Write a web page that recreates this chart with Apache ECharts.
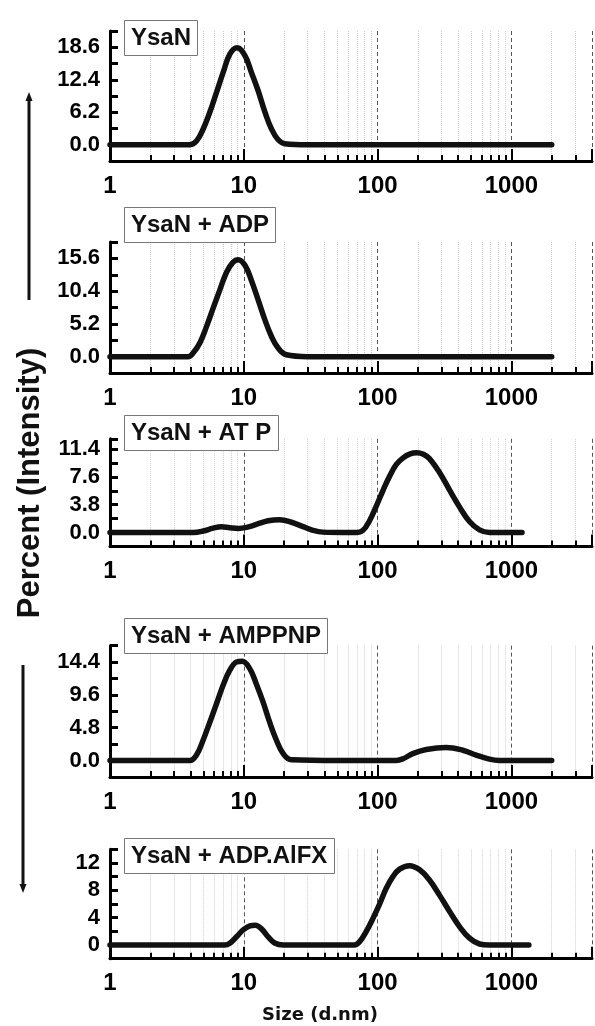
<!DOCTYPE html>
<html>
<head>
<meta charset="utf-8">
<script src="https://cdn.jsdelivr.net/npm/echarts@6/dist/echarts.min.js"></script>
<style>
  html, body { margin: 0; padding: 0; background: #fff; }
  #chart { width: 595px; height: 1026px; }
</style>
</head>
<body>
<div id="chart"></div>
<script>
// panel labels and x tick labels
const panelNames = ["YsaN", "YsaN + ADP", "YsaN + AT P", "YsaN + AMPPNP", "YsaN + ADP.AlFX"];
const xTickLabels = [1, 10, 100, 1000];

// size (d.nm) and percent intensity
const sizesYsaN = [1, 2, 3, 3.95, 4.43, 4.97, 5.57, 6.25, 7.01, 7.86, 8.92, 10.2, 11.4, 12.8, 14.4, 16.1, 18.0, 20.2, 30, 100, 1000, 2000];
const pctYsaN = [0, 0, 0, 0, 0.7, 3.0, 6.2, 10.0, 13.8, 17.3, 18.5, 17.0, 13.8, 10.3, 6.2, 3.0, 1.0, 0.2, 0, 0, 0, 0];

const sizesADP = [1, 2, 3, 3.84, 4.19, 4.7, 5.27, 5.9, 6.62, 7.43, 8.32, 9.08, 10.2, 11.4, 12.8, 14.4, 16.1, 18.0, 20.8, 30, 100, 1000, 2000];
const pctADP = [0, 0, 0, 0, 0.6, 2.2, 4.8, 7.7, 10.6, 13.4, 15.0, 15.4, 14.5, 12.1, 9.0, 5.8, 3.2, 1.4, 0.3, 0, 0, 0, 0];

const sizesATP = [1, 2, 3, 4.19, 4.97, 5.9, 6.8, 7.86, 9.1, 10.5, 12.4, 15.2, 18.6, 22.7, 27.7, 32.9, 39, 55, 69, 77.8, 87, 97.7, 110, 123, 138, 155, 175, 196, 220, 244, 290, 345, 409, 486, 577, 685, 1000, 1200];
const pctATP = [0, 0, 0, 0, 0.2, 0.6, 0.8, 0.65, 0.55, 0.7, 1.1, 1.6, 1.75, 1.4, 0.8, 0.3, 0.05, 0, 0, 0.3, 1.6, 3.6, 5.8, 7.7, 9.3, 10.2, 10.75, 10.9, 10.7, 10.1, 8.2, 5.8, 3.5, 1.5, 0.35, 0, 0, 0];

const sizesAMPPNP = [1, 2, 3, 3.95, 4.43, 4.97, 5.57, 6.25, 7.0, 7.86, 8.82, 9.72, 11.1, 12.4, 13.9, 15.6, 17.5, 19.7, 22.7, 50, 100, 138, 155, 183, 231, 325, 433, 545, 685, 813, 1000, 2000];
const pctAMPPNP = [0, 0, 0, 0, 0.8, 3.0, 5.6, 8.3, 11.0, 13.2, 14.4, 14.5, 13.4, 11.2, 8.6, 5.6, 3.0, 1.0, 0.1, 0, 0, 0, 0.25, 1.0, 1.6, 1.9, 1.5, 0.8, 0.2, 0, 0, 0];

const sizesAlFX = [1, 2, 5, 7.2, 7.86, 8.82, 9.89, 11.1, 12.2, 13.5, 15.2, 17, 19.7, 40, 67, 73.4, 82.3, 92.3, 104, 116, 130, 146, 173, 206, 244, 290, 345, 409, 486, 577, 685, 1000, 1350];
const pctAlFX = [0, 0, 0, 0, 0.25, 1.2, 2.2, 2.8, 2.9, 2.4, 1.2, 0.3, 0, 0, 0, 0.5, 2.0, 3.9, 6.1, 8.3, 10.0, 11.1, 11.6, 11.0, 9.5, 7.3, 4.9, 2.7, 1.0, 0.15, 0, 0, 0];

// y axis: tick step, range (labels every second tick)
const yIntervals = [3.1, 2.6, 1.9, 2.4, 2];
const yMins = [-3.1, -2.6, -1.9, -2.4, -2];
const yMaxs = [21.7, 18.2, 12.8, 16.8, 14];

const allSizes = [sizesYsaN, sizesADP, sizesATP, sizesAMPPNP, sizesAlFX];
const allPct = [pctYsaN, pctADP, pctATP, pctAMPPNP, pctAlFX];

// layout of each panel (pixels)
const gridTops = [31, 242, 438.8, 645.6, 849.3];
const gridHeights = [130, 131, 107.6, 131.3, 109.4];
const titleTops = [20, 207, 415, 618, 838];

const boldFont = "'Liberation Sans', Arial, sans-serif";

const chart = echarts.init(document.getElementById("chart"));

const grids = [], xAxes = [], yAxes = [], series = [], titles = [];
for (let i = 0; i < 5; i++) {
  grids.push({ left: 110, right: 2, top: gridTops[i], height: gridHeights[i] });

  xAxes.push({
    type: "log",
    gridIndex: i,
    min: 1,
    max: 4000,
    logBase: 10,
    axisLine: { show: true, onZero: false, lineStyle: { color: "#000", width: 3 } },
    axisTick: { show: true, inside: true, length: 12, lineStyle: { color: "#000", width: 2 } },
    minorTick: { show: true, splitNumber: 9, length: 6, lineStyle: { color: "#000", width: 2 } },
    splitLine: { show: true, lineStyle: { color: "#555", type: [4, 3], width: 1 } },
    minorSplitLine: { show: true, lineStyle: { color: "#d0d0d0", type: "dotted", width: 1 } },
    axisLabel: {
      margin: 13,
      color: "#000",
      fontSize: 24,
      fontWeight: "bold",
      fontFamily: boldFont,
      formatter: (v) => (xTickLabels.includes(Math.round(v)) && Math.abs(v - Math.round(v)) < 1e-6 ? String(Math.round(v)) : ""),
    },
  });

  const step = yIntervals[i];
  yAxes.push({
    type: "value",
    gridIndex: i,
    min: yMins[i],
    max: yMaxs[i],
    interval: step,
    axisLine: { show: true, lineStyle: { color: "#000", width: 3 } },
    axisTick: { show: true, inside: true, length: 8, lineStyle: { color: "#000", width: 3 } },
    splitLine: { show: false },
    axisLabel: {
      margin: 10,
      color: "#000",
      fontSize: 22,
      fontWeight: "bold",
      fontFamily: boldFont,
      formatter: (v) => {
        const k = v / step;
        const n = Math.round(k);
        if (Math.abs(k - n) > 1e-6 || n < 0 || n % 2 !== 0) return "";
        return i === 4 ? String(Math.round(v)) : (n * step).toFixed(1);
      },
    },
  });

  series.push({
    type: "line",
    xAxisIndex: i,
    yAxisIndex: i,
    showSymbol: false,
    smooth: 0.4,
    lineStyle: { color: "#111", width: 5.5, cap: "round", join: "round" },
    data: allSizes[i].map((s, j) => [s, allPct[i][j]]),
  });

  titles.push({
    text: panelNames[i],
    left: 124,
    top: titleTops[i],
    padding: [4, 7, 3, 7],
    borderColor: "#777",
    borderWidth: 1,
    backgroundColor: "#fff",
    textStyle: { fontSize: 24, lineHeight: 29, fontWeight: "bold", color: "#111", fontFamily: boldFont },
  });
}

const options = {
  animation: false,
  backgroundColor: "#fff",
  title: titles,
  grid: grids,
  xAxis: xAxes,
  yAxis: yAxes,
  series: series,
  graphic: [
    // axis title
    {
      type: "text",
      x: 30,
      y: 483,
      rotation: Math.PI / 2,
      style: {
        text: "Percent (Intensity)",
        textAlign: "center",
        textVerticalAlign: "middle",
        fontSize: 31,
        fontWeight: "bold",
        fontFamily: boldFont,
        fill: "#111",
      },
    },
    {
      type: "text",
      x: 320,
      y: 1015,
      style: {
        text: "Size (d.nm)",
        textAlign: "center",
        textVerticalAlign: "middle",
        fontSize: 18,
        fontWeight: "bold",
        fontFamily: "'DejaVu Sans', sans-serif",
        fill: "#111",
      },
    },
    // arrows
    { type: "line", shape: { x1: 29, y1: 98, x2: 29, y2: 300 }, style: { stroke: "#111", lineWidth: 3 } },
    { type: "polygon", shape: { points: [[29, 92], [25.5, 101], [32.5, 101]] }, style: { fill: "#111" } },
    { type: "line", shape: { x1: 23, y1: 665, x2: 23, y2: 887 }, style: { stroke: "#111", lineWidth: 3 } },
    { type: "polygon", shape: { points: [[23, 893], [19.5, 884], [26.5, 884]] }, style: { fill: "#111" } },
  ],
};

chart.setOption(options);
</script>
</body>
</html>
